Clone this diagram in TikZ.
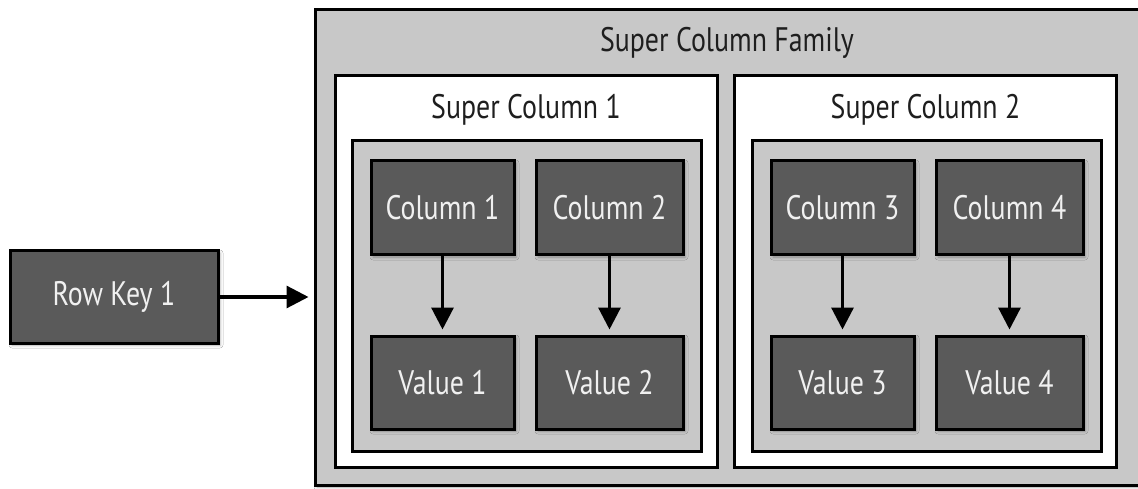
\documentclass[tikz,border=0pt]{standalone}
\usepackage{fontspec}
\setmainfont{PT Sans}[FakeStretch=0.82]
\usetikzlibrary{arrows.meta,shadows.blur}
\definecolor{panelgray}{HTML}{C8C8C8}
\definecolor{cellgray}{HTML}{5A5A5A}
\definecolor{cellink}{HTML}{F0F0F0}
\definecolor{labelink}{HTML}{1E1E1E}
\tikzset{
  frame/.style={draw=black, line width=3pt, rectangle, inner sep=0pt},
  familybox/.style={frame, fill=panelgray,
    blur shadow={shadow xshift=2pt, shadow yshift=-2pt, shadow blur radius=3pt, shadow opacity=35}},
  superbox/.style={frame, fill=white},
  groupbox/.style={frame, fill=panelgray},
  cellbox/.style={frame, fill=cellgray, text=cellink, font=\fontsize{34}{38}\selectfont,
    blur shadow={shadow xshift=2pt, shadow yshift=-2pt, shadow blur radius=3pt, shadow opacity=30}},
  caption/.style={text=labelink, font=\fontsize{34}{38}\selectfont, inner sep=0pt},
  link/.style={line width=3.2pt, -{Triangle[length=22pt,width=22pt]}},
}
\begin{document}
\begin{tikzpicture}[x=1pt,y=-1pt]
  \useasboundingbox[fill=white] (0,0) rectangle (1138,489);

  % row key
  \node[cellbox, minimum width=208pt, minimum height=92pt] (rowkey) at (114,297) {Row Key 1};

  % super column family (runs past the right edge)
  \node[familybox, minimum width=835pt, minimum height=475pt] (family) at (732.5,247.5) {};
  \node[caption] (familylabel) at (727,43) {Super Column Family};

  % super column 1
  \node[superbox, minimum width=382pt, minimum height=391pt] (sc1) at (526,271.5) {};
  \node[caption] (sc1label) at (526,110) {Super Column 1};
  \node[groupbox, minimum width=349pt, minimum height=310pt] (g1) at (526.5,296) {};

  % super column 2
  \node[superbox, minimum width=382pt, minimum height=391pt] (sc2) at (925.5,271.5) {};
  \node[caption] (sc2label) at (925.5,110) {Super Column 2};
  \node[groupbox, minimum width=349pt, minimum height=310pt] (g2) at (926.5,296) {};

  % columns and values
  \node[cellbox, minimum width=143pt, minimum height=94pt] (c1) at (442.5,208) {Column 1};
  \node[cellbox, minimum width=147pt, minimum height=94pt] (c2) at (609.5,208) {Column 2};
  \node[cellbox, minimum width=143pt, minimum height=94pt] (c3) at (842.5,208) {Column 3};
  \node[cellbox, minimum width=147pt, minimum height=94pt] (c4) at (1009.5,208) {Column 4};

  \node[cellbox, minimum width=143pt, minimum height=93pt] (v1) at (442.5,382.5) {Value 1};
  \node[cellbox, minimum width=147pt, minimum height=93pt] (v2) at (609.5,382.5) {Value 2};
  \node[cellbox, minimum width=143pt, minimum height=93pt] (v3) at (842.5,382.5) {Value 3};
  \node[cellbox, minimum width=147pt, minimum height=93pt] (v4) at (1009.5,382.5) {Value 4};

  % connectors
  \draw[link, shorten >=5pt] (rowkey.east) -- (rowkey.east -| family.west);
  \draw[link, shorten >=5pt] (c1) -- (v1);
  \draw[link, shorten >=5pt] (c2) -- (v2);
  \draw[link, shorten >=5pt] (c3) -- (v3);
  \draw[link, shorten >=5pt] (c4) -- (v4);
\end{tikzpicture}
\end{document}
